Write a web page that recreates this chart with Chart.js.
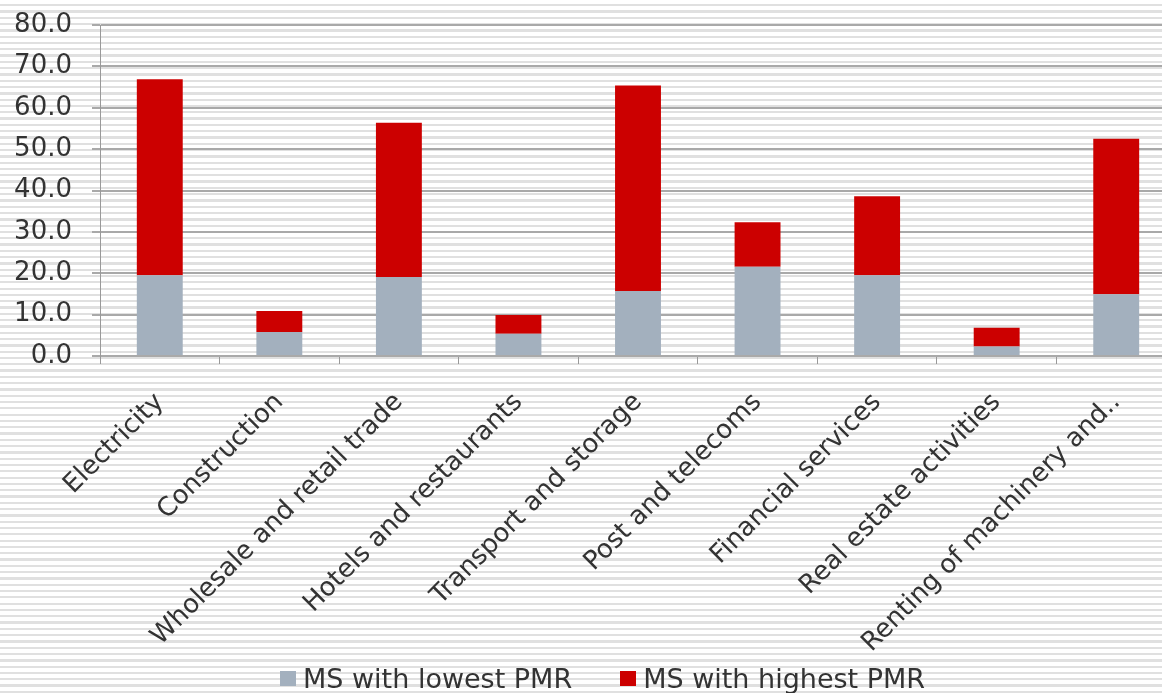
<!DOCTYPE html>
<html>
<head>
<meta charset="utf-8">
<title>PMR by sector</title>
<script src="https://cdn.jsdelivr.net/npm/chart.js@4"></script>
<style>
  html, body {
    margin: 0;
    padding: 0;
    width: 1162px;
    height: 693px;
    overflow: hidden;
    /* striped page background */
    background: repeating-linear-gradient(to bottom, #ffffff 0px, #ffffff 4px, #e0e0e0 4px, #e0e0e0 6.3px);
  }
  #wrap {
    position: absolute;
    left: 0;
    top: 0;
    width: 1176px;
    height: 693px;
  }
  #legend {
    position: absolute;
    left: 280px;
    top: 663px;
    height: 30px;
    display: flex;
    align-items: center;
    font-family: 'DejaVu Sans', sans-serif;
    font-size: 27px;
    color: #333333;
    white-space: nowrap;
  }
  #legend .item {
    display: flex;
    align-items: center;
    margin-right: 48px;
  }
  #legend .box {
    width: 16px;
    height: 15px;
    margin-right: 7px;
  }
</style>
</head>
<body>
<div id="wrap"><canvas id="pmr-chart"></canvas></div>
<div id="legend"></div>
<script>
  // sectors on the x axis
  const sectors = [
    'Electricity',
    'Construction',
    'Wholesale and retail trade',
    'Hotels and restaurants',
    'Transport and storage',
    'Post and telecoms',
    'Financial services',
    'Real estate activities',
    'Renting of machinery and..',
  ];

  // member state with the lowest PMR
  const lowestPmr = [19.5, 5.8, 19.1, 5.4, 15.7, 21.6, 19.5, 2.3, 14.9];

  // member state with the highest PMR (top of each bar)
  const highestPmr = [66.9, 10.9, 56.4, 9.9, 65.4, 32.3, 38.6, 6.8, 52.5];

  // y axis
  const yMin = 0;
  const yMax = 80;
  const yStep = 10;

  const textColor = '#333333';
  const gridColor = '#a9a9a9';
  const fontFamily = 'DejaVu Sans';

  // red bar goes from the lowest value up to the highest
  const highestRange = lowestPmr.map((low, i) => [low, highestPmr[i]]);

  const chartData = {
    labels: sectors,
    datasets: [
      {
        label: 'MS with lowest PMR',
        data: lowestPmr,
        backgroundColor: '#a3b0be',
        borderWidth: 0,
        categoryPercentage: 0.8,
        barPercentage: 0.48,
      },
      {
        label: 'MS with highest PMR',
        data: highestRange,
        backgroundColor: '#cc0000',
        borderWidth: 0,
        categoryPercentage: 0.8,
        barPercentage: 0.48,
      },
    ],
  };

  const chartOptions = {
    responsive: true,
    maintainAspectRatio: false,
    animation: false,
    layout: {
      padding: { left: 0, top: 25, right: 0, bottom: 30 },
    },
    plugins: {
      tooltip: { enabled: false },
      // legend is built as html below
      legend: { display: false },
    },
    scales: {
      x: {
        stacked: true,
        grid: {
          drawOnChartArea: false,
          drawTicks: true,
          tickLength: 8,
          color: '#999999',
        },
        border: { display: false },
        ticks: {
          autoSkip: false,
          minRotation: 45,
          maxRotation: 45,
          padding: 23,
          color: textColor,
          font: { family: fontFamily, size: 26 },
        },
        // fixed band for the slanted labels
        afterFit: (scale) => {
          scale.height = 307;
          scale.paddingLeft = 0;
          scale.paddingRight = 0;
        },
      },
      y: {
        stacked: false,
        min: yMin,
        max: yMax,
        grid: {
          color: gridColor,
          lineWidth: 2,
          tickLength: 8,
        },
        border: { display: true, color: '#999999', width: 1 },
        ticks: {
          stepSize: yStep,
          padding: 20,
          color: textColor,
          font: { family: fontFamily, size: 26 },
          callback: (value) => value.toFixed(1),
        },
        afterFit: (scale) => {
          scale.width = 100;
          scale.paddingTop = 0;
          scale.paddingBottom = 0;
        },
      },
    },
  };

  const ctx = document.getElementById('pmr-chart').getContext('2d');
  const chart = new Chart(ctx, {
    type: 'bar',
    data: chartData,
    options: chartOptions,
  });

  // legend entries from the datasets
  const legendEl = document.getElementById('legend');
  chart.data.datasets.forEach((ds) => {
    const item = document.createElement('div');
    item.className = 'item';
    const box = document.createElement('span');
    box.className = 'box';
    box.style.background = ds.backgroundColor;
    const text = document.createElement('span');
    text.textContent = ds.label;
    item.appendChild(box);
    item.appendChild(text);
    legendEl.appendChild(item);
  });
</script>
</body>
</html>
